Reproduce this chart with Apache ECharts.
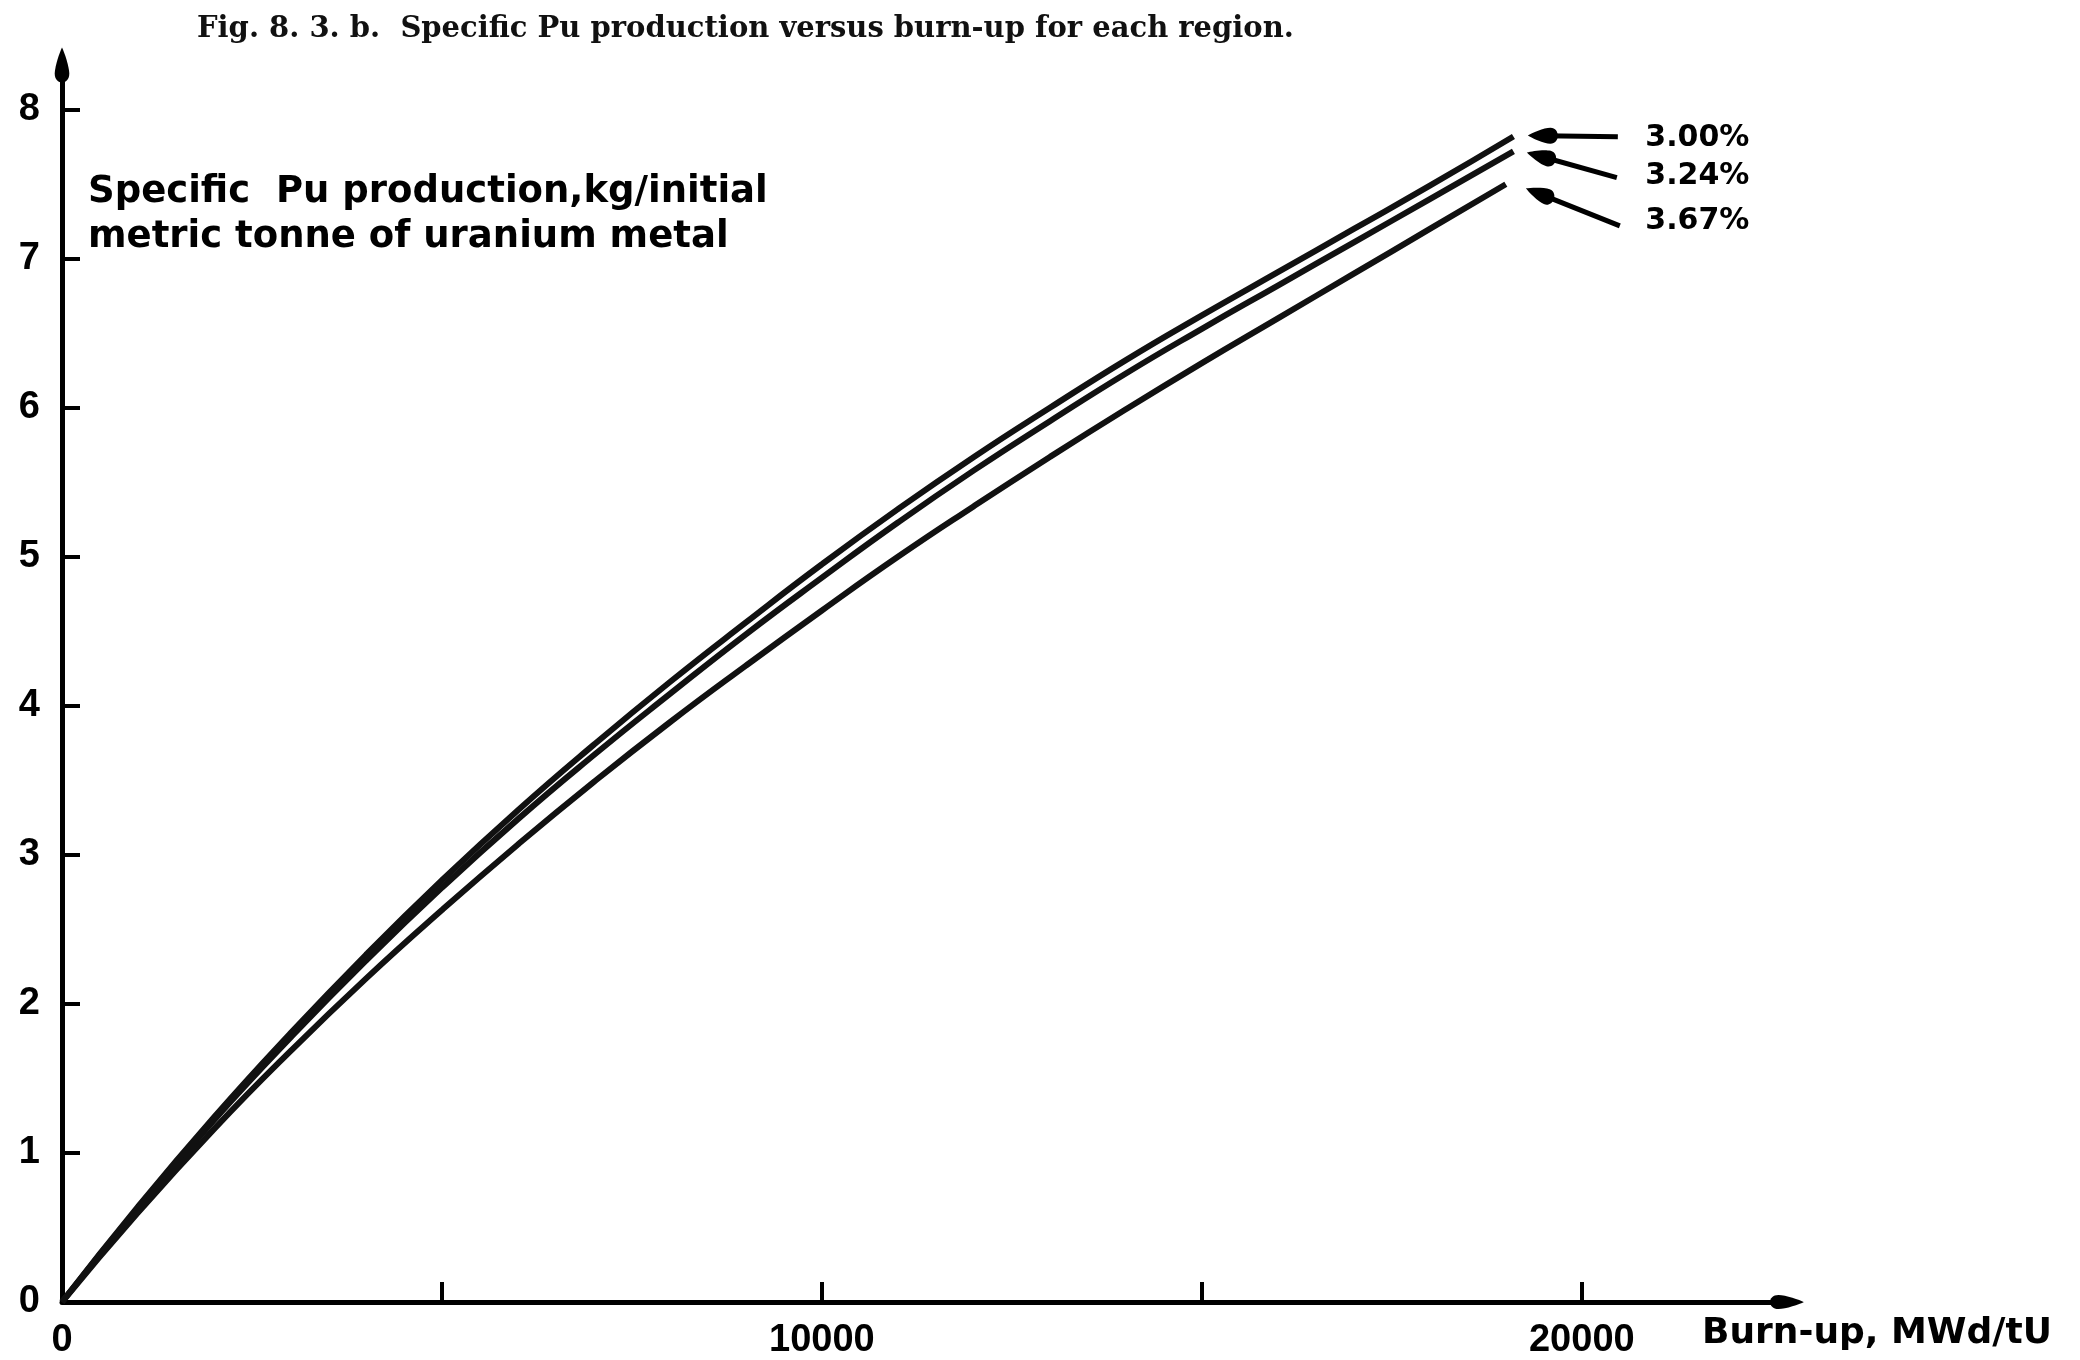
<!DOCTYPE html>
<html>
<head>
<meta charset="utf-8">
<title>Specific Pu production versus burn-up</title>
<script src="https://cdn.jsdelivr.net/npm/echarts@6/dist/echarts.min.js"></script>
<style>
  html, body { margin: 0; padding: 0; background: #fff; }
  #chart { width: 2080px; height: 1360px; }
</style>
</head>
<body>
<div id="chart"></div>
<script>
// burn-up, MWd/tU
var burnupA = [0, 1000, 2000, 3000, 4000, 5000, 6000, 7000, 8000, 9000, 10000,
               11000, 12000, 13000, 14000, 15000, 16000, 17000, 18000, 19100];
var burnupB = [0, 1000, 2000, 3000, 4000, 5000, 6000, 7000, 8000, 9000, 10000,
               11000, 12000, 13000, 14000, 15000, 16000, 17000, 18000, 19000];
// specific Pu production, kg / initial tU
var pu300 = [0, 0.64, 1.24, 1.80, 2.33, 2.83, 3.30, 3.74, 4.16, 4.56, 4.95,
             5.32, 5.67, 6.00, 6.32, 6.62, 6.91, 7.20, 7.49, 7.82];
var pu324 = [0, 0.63, 1.22, 1.77, 2.29, 2.78, 3.24, 3.67, 4.08, 4.48, 4.86,
             5.23, 5.58, 5.91, 6.23, 6.53, 6.82, 7.11, 7.40, 7.72];
var pu367 = [0, 0.60, 1.16, 1.68, 2.17, 2.63, 3.07, 3.49, 3.89, 4.27, 4.64,
             5.00, 5.34, 5.67, 5.99, 6.30, 6.60, 6.90, 7.20, 7.50];

var seriesNames = ['3.00%', '3.24%', '3.67%'];
// where the enrichment labels sit, and the arrows pointing to the curve ends
var labelX = [20829, 20829, 20829];
var labelY = [7.81, 7.557, 7.255];
var arrowTail = [[20474, 7.819], [20461, 7.544], [20500, 7.221]];
var arrowHead = [[19487, 7.826], [19467, 7.686], [19447, 7.435]];

var xTicks = [0, 5000, 10000, 15000, 20000];
var xLabels = [0, 10000, 20000];
var yTicks = [0, 1, 2, 3, 4, 5, 6, 7, 8];

function pairs(xs, ys) {
    return xs.map(function (x, i) { return [x, ys[i]]; });
}

var drop = 'path://M5,0 C6.5,3 10,13 10,18 C10,22 7.5,24 5,24 C2.5,24 0,22 0,18 C0,13 3.5,3 5,0 Z';

var chart = echarts.init(document.getElementById('chart'));

var lineStyle = { color: '#111', width: 6 };

var option = {
    animation: false,
    backgroundColor: '#fff',
    title: {
        text: 'Fig. 8. 3. b.  Specific Pu production versus burn-up for each region.',
        left: 192,
        top: 10,
        textStyle: { fontFamily: 'DejaVu Serif', fontWeight: 'bold', fontSize: 29, color: '#111' }
    },
    grid: { left: 62, right: 293, top: 65, bottom: 58 },
    xAxis: {
        type: 'value',
        min: 0,
        max: 22700,
        interval: 5000,
        splitLine: { show: false },
        axisLine: {
            lineStyle: { color: '#000', width: 5 },
            symbol: ['none', drop],
            symbolSize: [16, 34]
        },
        axisTick: { inside: true, length: 20, lineStyle: { color: '#000', width: 4 }, customValues: xTicks },
        axisLabel: {
            customValues: xLabels,
            formatter: function (v) { return String(v); },
            margin: 20,
            color: '#000',
            fontFamily: 'Liberation Sans',
            fontWeight: 'bold',
            fontSize: 38
        }
    },
    yAxis: {
        type: 'value',
        min: 0,
        max: 8.3,
        interval: 1,
        splitLine: { show: false },
        axisLine: {
            lineStyle: { color: '#000', width: 5 },
            symbol: ['none', drop],
            symbolSize: [17, 35]
        },
        axisTick: { inside: true, length: 18, lineStyle: { color: '#000', width: 4 }, customValues: yTicks },
        axisLabel: {
            customValues: yTicks,
            margin: 22,
            color: '#000',
            fontFamily: 'Liberation Sans',
            fontWeight: 'bold',
            fontSize: 38
        }
    },
    graphic: [
        {
            type: 'text',
            left: 88,
            top: 170,
            style: {
                text: 'Specific  Pu production,kg/initial\nmetric tonne of uranium metal',
                fontFamily: 'DejaVu Sans',
                fontWeight: 'bold',
                fontSize: 37,
                lineHeight: 45,
                fill: '#000'
            }
        },
        {
            type: 'text',
            left: 1702,
            top: 1316,
            style: {
                text: 'Burn-up, MWd/tU',
                fontFamily: 'DejaVu Sans',
                fontWeight: 'bold',
                fontSize: 36,
                fill: '#000'
            }
        }
    ],
    series: [
        {
            name: seriesNames[0], type: 'line', smooth: true, showSymbol: false,
            lineStyle: lineStyle, data: pairs(burnupA, pu300), silent: true
        },
        {
            name: seriesNames[1], type: 'line', smooth: true, showSymbol: false,
            lineStyle: lineStyle, data: pairs(burnupA, pu324), silent: true
        },
        {
            name: seriesNames[2], type: 'line', smooth: true, showSymbol: false,
            lineStyle: lineStyle, data: pairs(burnupB, pu367), silent: true
        },
        {
            name: 'labels', type: 'scatter', silent: true,
            symbolSize: 1,
            itemStyle: { color: 'rgba(0,0,0,0)' },
            data: seriesNames.map(function (n, i) { return [labelX[i], labelY[i], n]; }),
            label: {
                show: true,
                position: 'right',
                distance: 0,
                formatter: function (p) { return p.data[2]; },
                color: '#000',
                opacity: 1,
                fontFamily: 'DejaVu Sans',
                fontWeight: 'bold',
                fontSize: 30
            },
            markLine: {
                silent: true,
                symbol: ['none', drop],
                symbolSize: [16, 30],
                label: { show: false },
                lineStyle: { color: '#000', width: 5, type: 'solid', opacity: 1 },
                data: arrowTail.map(function (t, i) {
                    return [{ coord: t }, { coord: arrowHead[i] }];
                })
            }
        }
    ]
};

chart.setOption(option);
</script>
</body>
</html>
